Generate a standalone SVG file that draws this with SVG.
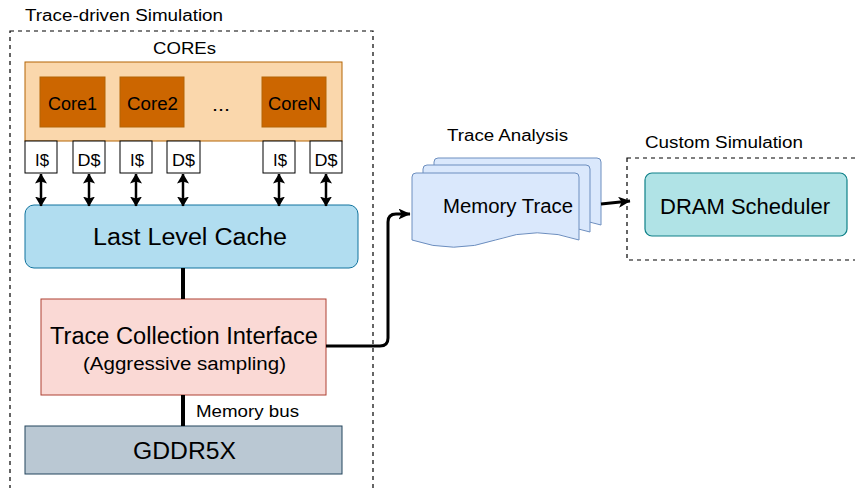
<svg xmlns="http://www.w3.org/2000/svg" width="855" height="488" viewBox="0 0 855 488">
<style>
text{font-family:"Liberation Sans",Arial,sans-serif;fill:#000;}
.c{text-anchor:middle;}
.dash{fill:none;stroke:#000;stroke-width:1.2;stroke-dasharray:4 4;}
.cache{fill:#fff;stroke:#000;stroke-width:1;}
.core{fill:#cc6600;stroke:#b46504;stroke-width:1;}
.bi{stroke:#000;stroke-width:2.5;fill:none;marker-start:url(#ah);marker-end:url(#ah);}
.thick{stroke:#000;stroke-width:4;fill:none;}
.doc{fill:#dae8fc;stroke:#6c8ebf;stroke-width:1;}
</style>
<defs>
<marker id="ah" viewBox="0 0 10 12" refX="9.5" refY="6" markerWidth="10" markerHeight="12" orient="auto-start-reverse" markerUnits="userSpaceOnUse">
<path d="M0,0 L10,6 L0,12 L2,6 Z" fill="#000"/>
</marker>
<marker id="ah2" viewBox="0 0 12 11" refX="11.5" refY="5.5" markerWidth="12" markerHeight="11" orient="auto" markerUnits="userSpaceOnUse">
<path d="M0,0 L12,5.5 L0,11 L3,5.5 Z" fill="#000"/>
</marker>
<path id="docp" d="M0,4 Q0,0 4,0 H163 Q167,0 167,4 V67 Q125.25,52.6 83.5,67 Q41.75,81.4 0,67 Z"/>
</defs>

<g id="trace-driven">
<rect class="dash" x="10" y="31" width="363" height="470"/>
<text x="25" y="21" font-size="16" textLength="198" lengthAdjust="spacingAndGlyphs">Trace-driven Simulation</text>
</g>

<g id="cores">
<rect x="25" y="62" width="317" height="79" fill="#fad7ac" stroke="#b46504" stroke-width="1"/>
<text class="c" x="184.5" y="54" font-size="16" textLength="63" lengthAdjust="spacingAndGlyphs">COREs</text>
</g>
<g id="core1"><rect class="core" x="40" y="77" width="65" height="50"/><text class="c" x="72.5" y="110" font-size="18" textLength="49" lengthAdjust="spacingAndGlyphs">Core1</text></g>
<g id="core2"><rect class="core" x="120" y="77" width="64" height="50"/><text class="c" x="152.5" y="110" font-size="18" textLength="51" lengthAdjust="spacingAndGlyphs">Core2</text></g>
<g id="dots"><text class="c" x="221" y="111" font-size="18" textLength="18" lengthAdjust="spacingAndGlyphs">...</text></g>
<g id="coreN"><rect class="core" x="262" y="77" width="64" height="50"/><text class="c" x="294.5" y="110" font-size="18" textLength="53" lengthAdjust="spacingAndGlyphs">CoreN</text></g>

<g id="i1"><rect class="cache" x="25" y="141" width="32" height="32"/><text class="c" x="42" y="166" font-size="17" textLength="14" lengthAdjust="spacingAndGlyphs">I$</text></g>
<g id="d1"><rect class="cache" x="73" y="141" width="32" height="32"/><text class="c" x="89" y="166" font-size="17" textLength="23" lengthAdjust="spacingAndGlyphs">D$</text></g>
<g id="i2"><rect class="cache" x="120" y="141" width="32" height="32"/><text class="c" x="137" y="166" font-size="17" textLength="14" lengthAdjust="spacingAndGlyphs">I$</text></g>
<g id="d2"><rect class="cache" x="167" y="141" width="33" height="32"/><text class="c" x="183.5" y="166" font-size="17" textLength="23" lengthAdjust="spacingAndGlyphs">D$</text></g>
<g id="iN"><rect class="cache" x="263" y="141" width="32" height="32"/><text class="c" x="280" y="166" font-size="17" textLength="14" lengthAdjust="spacingAndGlyphs">I$</text></g>
<g id="dN"><rect class="cache" x="310" y="141" width="32" height="32"/><text class="c" x="326" y="166" font-size="17" textLength="23" lengthAdjust="spacingAndGlyphs">D$</text></g>

<g id="llc">
<rect x="25" y="205" width="333" height="63" rx="9" fill="#b1ddf0" stroke="#10739e" stroke-width="1"/>
<text class="c" x="190" y="245" font-size="23" textLength="194" lengthAdjust="spacingAndGlyphs">Last Level Cache</text>
</g>

<g id="tci">
<rect x="41" y="299" width="285" height="96" fill="#fad9d5" stroke="#ae4132" stroke-width="1"/>
<text class="c" x="184" y="344" font-size="23" textLength="268" lengthAdjust="spacingAndGlyphs">Trace Collection Interface</text>
<text class="c" x="184.5" y="370" font-size="18" textLength="203" lengthAdjust="spacingAndGlyphs">(Aggressive sampling)</text>
</g>

<g id="gddr">
<rect x="25" y="426" width="317" height="48" fill="#bac8d3" stroke="#23445d" stroke-width="1"/>
<text class="c" x="184.5" y="459" font-size="23" textLength="103" lengthAdjust="spacingAndGlyphs">GDDR5X</text>
</g>

<g id="memtrace">
<text class="c" x="507.5" y="141" font-size="16" textLength="121" lengthAdjust="spacingAndGlyphs">Trace Analysis</text>
<use href="#docp" class="doc" x="434" y="158"/>
<use href="#docp" class="doc" x="423" y="165"/>
<use href="#docp" class="doc" x="412" y="173"/>
<text class="c" x="508" y="213" font-size="20" textLength="130" lengthAdjust="spacingAndGlyphs">Memory Trace</text>
</g>

<g id="custom">
<rect class="dash" x="627" y="158" width="240" height="102"/>
<text x="645" y="148" font-size="16" textLength="158" lengthAdjust="spacingAndGlyphs">Custom Simulation</text>
</g>

<g id="dram">
<rect x="645" y="173" width="202" height="63" rx="7" fill="#b0e3e6" stroke="#0e8088" stroke-width="1.2"/>
<text class="c" x="745" y="214" font-size="22" textLength="170" lengthAdjust="spacingAndGlyphs">DRAM Scheduler</text>
</g>

<g id="connectors">
<line class="bi" x1="41" y1="174" x2="41" y2="206"/>
<line class="bi" x1="89" y1="174" x2="89" y2="206"/>
<line class="bi" x1="136" y1="174" x2="136" y2="206"/>
<line class="bi" x1="183" y1="174" x2="183" y2="206"/>
<line class="bi" x1="279" y1="174" x2="279" y2="206"/>
<line class="bi" x1="326" y1="174" x2="326" y2="206"/>
<line class="thick" x1="183" y1="268" x2="183" y2="299"/>
<line class="thick" x1="183" y1="395" x2="183" y2="426"/>
<text x="196" y="417" font-size="16" textLength="103" lengthAdjust="spacingAndGlyphs">Memory bus</text>
<path d="M326,346 H380 Q388,346 388,338 V222 Q388,214 396,214 H410" stroke="#000" stroke-width="3" fill="none" marker-end="url(#ah2)"/>
<path d="M601,204 L630,201" stroke="#000" stroke-width="3" fill="none" marker-end="url(#ah2)"/>
</g>
</svg>
